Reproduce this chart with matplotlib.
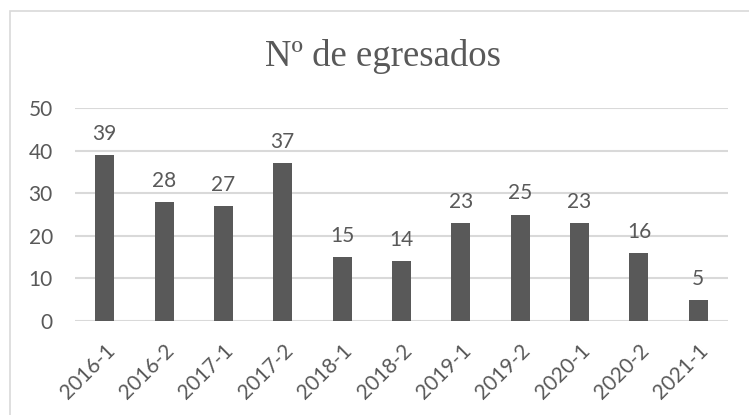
import matplotlib.pyplot as plt
from matplotlib.patches import Rectangle

semestres = ['2016-1', '2016-2', '2017-1', '2017-2', '2018-1', '2018-2',
             '2019-1', '2019-2', '2020-1', '2020-2', '2021-1']
egresados = [39, 28, 27, 37, 15, 14, 23, 25, 23, 16, 5]

GRIS = '#595959'
W, H = 749, 415

fig = plt.figure(figsize=(W / 100, H / 100), dpi=100)
fig.patch.set_facecolor('white')

# chart area border (light gray, runs off right/bottom)
fig.patches.append(Rectangle((10 / W, -0.1), 1.2, (H - 11) / H + 0.1,
                             transform=fig.transFigure, fill=False,
                             edgecolor='#d9d9d9', linewidth=1.2))

ax = fig.add_axes([75 / W, 1 - 321 / H, (728 - 75) / W, (321 - 108) / H])
x = range(len(semestres))
bars = ax.bar(x, egresados, width=0.32, color=GRIS, zorder=3)

ax.set_xlim(-0.5, len(semestres) - 0.5)
ax.set_ylim(0, 50)
ax.set_yticks(range(0, 51, 10))
ax.grid(axis='y', color='#d9d9d9', linewidth=1.5, zorder=0)
for s in ax.spines.values():
    s.set_visible(False)
ax.tick_params(axis='both', length=0, colors=GRIS, labelsize=15)
ax.tick_params(axis='y', pad=16)
ax.tick_params(axis='x', pad=14)
ax.set_xticks(list(x))
ax.set_xticklabels(semestres, rotation=45, ha='right', rotation_mode='anchor',
                   family='Lato')
for lab in ax.get_yticklabels():
    lab.set_family('Lato')

# data labels above bars
for xi, v in zip(x, egresados):
    ax.annotate(str(v), (xi, v), xytext=(0, 8), textcoords='offset points',
                ha='center', va='bottom', fontsize=15, color=GRIS,
                family='Lato', zorder=4)

fig.text(383 / W, 1 - 57 / H, 'Nº de egresados', ha='center', va='center',
         fontsize=26.5, color=GRIS, family='Liberation Serif')

fig.savefig('out.png', dpi=100)
